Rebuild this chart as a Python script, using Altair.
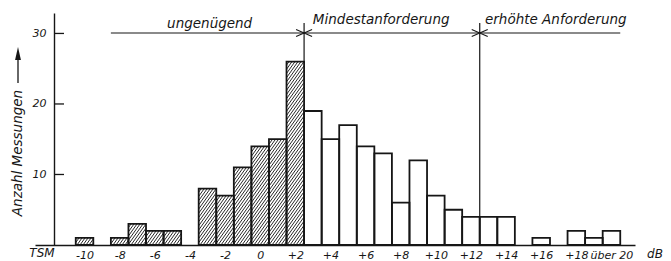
import altair as alt
import pandas as pd
import numpy as np

# ---------------- data ----------------
tsm_values = list(range(-10, 21))          # TSM class in dB (20 = "über 20")
counts = [1, 0, 1, 3, 2, 2, 0, 8, 7, 11, 14, 15, 26,
          19, 15, 17, 14, 13, 6, 12, 7, 5, 4, 4, 4, 0, 1, 0, 2, 1, 2]
hatched_upto = 2                            # classes up to +2 dB are hatched ("ungenügend")

tick_values = [-10, -8, -6, -4, -2, 0, 2, 4, 6, 8, 10, 12, 14, 16, 18, 20]
tick_labels = ["-10", "-8", "-6", "-4", "-2", "0", "+2", "+4", "+6", "+8",
               "+10", "+12", "+14", "+16", "+18", "über 20"]
y_ticks = [10, 20, 30]

region_names = ["ungenügend", "Mindestanforderung", "erhöhte Anforderung"]
region_start = [-8.5, 2.5, 12.5]
region_end = [2.5, 12.5, 20.5]

# ---------------- layout ----------------
W, H = 600, 232
XMIN, XMAX = -12.82, 21.34
YMAX = 32.9
INK = "#161616"
FONT = "DejaVu Sans"
px_x = W / (XMAX - XMIN)
px_y = H / YMAX
region_label_x = [-5.3, 3.0, 12.8]
region_label_y = [15, 11, 11]

bars = pd.DataFrame({"tsm": tsm_values, "count": counts})
bars = bars[bars["count"] > 0].copy()
bars["x0"] = bars["tsm"] - 0.5
bars["x1"] = bars["tsm"] + 0.5
bars["zero"] = 0

# hatch lines clipped to hatched bars (computed from bar data)
spacing, slope = 3.0, 1.4
segs = []
for _, r in bars[bars["tsm"] <= hatched_upto].iterrows():
    X0 = (r["x0"] - XMIN) * px_x
    X1 = (r["x1"] - XMIN) * px_x
    Hh = r["count"] * px_y
    k0 = int(np.floor((X0 - Hh / slope) / spacing))
    k1 = int(np.ceil(X1 / spacing))
    for k in range(k0, k1 + 1):
        c = k * spacing
        xa = max(X0, c)
        xb = min(X1, c + Hh / slope)
        if xb - xa > 0.2:
            segs.append({
                "x0": XMIN + xa / px_x, "x1": XMIN + xb / px_x,
                "count": slope * (xa - c) / px_y, "zero": slope * (xb - c) / px_y,
            })
hatch = pd.DataFrame(segs)

x_scale = alt.Scale(domain=[XMIN, XMAX], nice=False, zero=False)
y_scale = alt.Scale(domain=[0, YMAX], nice=False, zero=False)

label_expr = ""
for v, t in zip(tick_values, tick_labels):
    label_expr += f"datum.value == {v} ? '{t}' : "
label_expr += "''"

x_axis = alt.Axis(values=tick_values, labelExpr=label_expr, tickSize=0, labelPadding=4,
                  labelFontSize=11, labelFont=FONT, labelFontStyle="italic", labelColor=INK,
                  domainColor=INK, domainWidth=1.4, grid=False, title=None,
                  labelFlush=False, labelOverlap=False)
y_axis = alt.Axis(values=y_ticks, offset=-19, tickSize=0, labelPadding=8,
                  labelFontSize=11, labelFont=FONT, labelFontStyle="italic", labelColor=INK,
                  domainColor=INK, domainWidth=1.4, grid=False, title=None)

X = alt.X("x0:Q", scale=x_scale, axis=x_axis)
Y = alt.Y("count:Q", scale=y_scale, axis=y_axis)

fill_layer = alt.Chart(bars).mark_rect(fill="white").encode(x=X, x2="x1:Q", y=Y, y2="zero:Q")

hatch_layer = alt.Chart(hatch).mark_rule(color="#1c1c1c", strokeWidth=0.95).encode(
    x=X, x2="x1:Q", y=Y, y2="zero:Q")

outline_layer = alt.Chart(bars).mark_rect(fillOpacity=0, stroke=INK, strokeWidth=1.8).encode(
    x=X, x2="x1:Q", y=Y, y2="zero:Q")

ytick_layer = alt.Chart(pd.DataFrame({"count": y_ticks})).mark_rule(color=INK, strokeWidth=1.3).encode(
    x=alt.value(19), x2=alt.value(29), y=Y)

# region boundaries (vertical lines down to the bar at the boundary)
bmap = dict(zip(tsm_values, counts))
bounds = pd.DataFrame({
    "x0": [region_end[0], region_end[1]],
    "count": [bmap[int(region_end[0] - 0.5)], bmap[int(region_end[1] - 0.5)]],
})
vline_layer = alt.Chart(bounds).mark_rule(color=INK, strokeWidth=1.2).encode(
    x=X, y=Y, y2=alt.value(10))

regions = pd.DataFrame({"name": region_names, "x0": region_start, "x1": region_end,
                        "lx": region_label_x})
hline_layer = alt.Chart(regions).mark_rule(color=INK, strokeWidth=1.1).encode(
    x=X, x2="x1:Q", y=alt.value(20))

heads_r = pd.DataFrame({"x0": region_end[:-1]})
heads_l = pd.DataFrame({"x0": region_start[1:]})
head_r_layer = alt.Chart(heads_r).mark_point(
    shape="M -2 -0.9 L 0 0 L -2 0.9", filled=False, stroke=INK, strokeWidth=1.1,
    size=64, opacity=1).encode(x=X, y=alt.value(20))
head_l_layer = alt.Chart(heads_l).mark_point(
    shape="M 2 -0.9 L 0 0 L 2 0.9", filled=False, stroke=INK, strokeWidth=1.1,
    size=64, opacity=1).encode(x=X, y=alt.value(20))

region_texts = []
for i in range(len(region_names)):
    sub = pd.DataFrame({"x0": [region_label_x[i]], "name": [region_names[i]]})
    region_texts.append(alt.Chart(sub).mark_text(
        align="left", baseline="alphabetic", font=FONT, fontSize=13.5, fontStyle="italic",
        color=INK).encode(x=X, y=alt.value(region_label_y[i]), text="name:N"))


def label(txt, x, y, size, angle=0):
    return alt.Chart(pd.DataFrame({"t": [txt]})).mark_text(
        align="center", baseline="middle", font=FONT, fontSize=size, fontStyle="italic",
        color=INK, angle=angle).encode(x=alt.value(x), y=alt.value(y), text="t:N")


tsm_label = label("TSM", 7, 240, 12)
db_label = label("dB", 620, 240.5, 12)
ytitle = label("Anzahl Messungen", -17, 140, 13.5, angle=270)

shaft = alt.Chart(pd.DataFrame({"a": [0]})).mark_rule(color=INK, strokeWidth=1.3).encode(
    x=alt.value(-17), y=alt.value(46), y2=alt.value(70))
arrowhead = alt.Chart(pd.DataFrame({"a": [0]})).mark_point(
    shape="M 0 -1 L 0.45 1 L -0.45 1 Z", filled=True, color=INK, size=169, opacity=1).encode(
    x=alt.value(-17), y=alt.value(40.5))

chart = alt.layer(
    fill_layer, hatch_layer, outline_layer, ytick_layer, vline_layer, hline_layer,
    head_r_layer, head_l_layer, *region_texts, tsm_label, db_label, ytitle, shaft, arrowhead,
).properties(
    width=W, height=H,
    padding={"left": 27, "top": 5, "right": 28, "bottom": 15},
    autosize=alt.AutoSizeParams(type="none"),
    background="white",
).configure_view(stroke=None)

chart.save("out.html", embed_options={"renderer": "svg", "actions": False})
